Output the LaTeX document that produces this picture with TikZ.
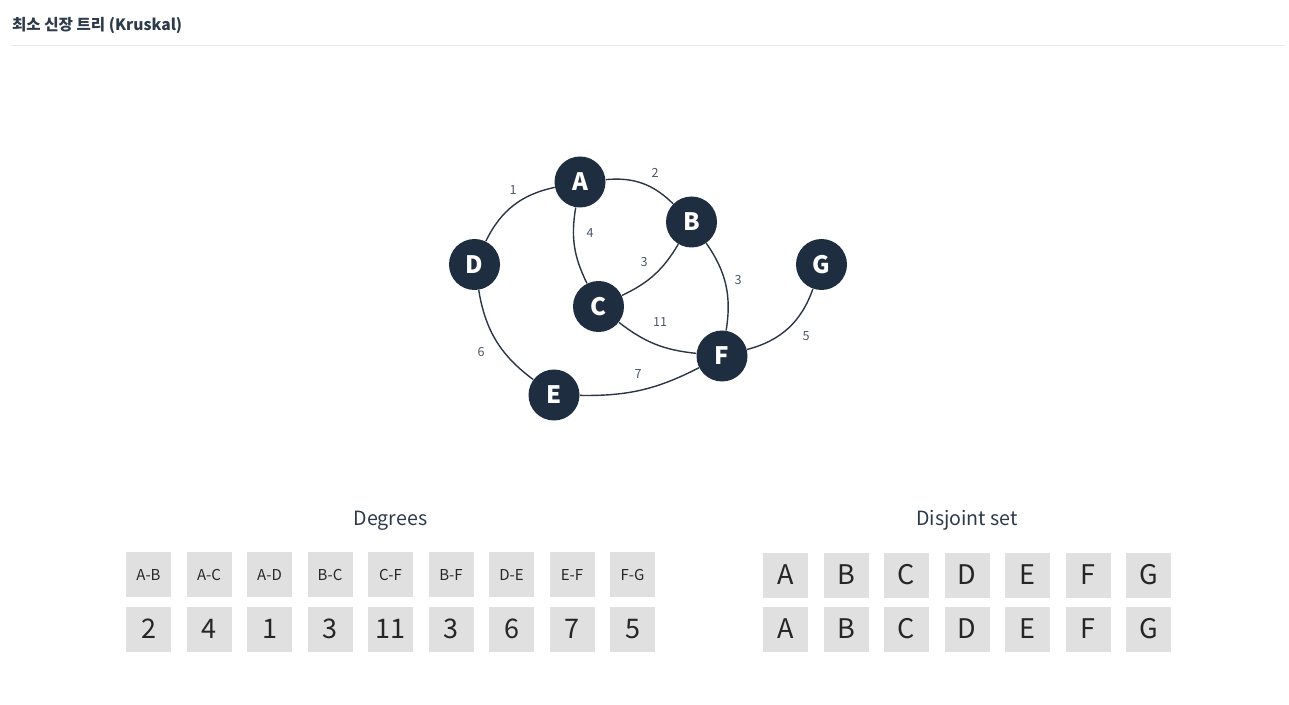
\documentclass[tikz,border=0pt]{standalone}
\usepackage{fontspec}
\setmainfont{Noto Sans CJK KR}
\usepackage{tikz}
\usetikzlibrary{positioning}
\definecolor{nodocol}{HTML}{1F2D40}
\definecolor{arcocol}{HTML}{2B3545}
\definecolor{testocol}{HTML}{2D3A4C}
\definecolor{casellacol}{HTML}{E0E0E0}
\definecolor{lineacol}{HTML}{E8E8E8}
\tikzset{
	% vertice del grafo
	vertice/.style={circle, fill=nodocol, text=white, minimum size=25.5pt, inner sep=0pt,
	                font=\bfseries\fontsize{12}{12}\selectfont},
	% arco pesato
	arco/.style={draw=arcocol, line width=0.7pt},
	% peso dell'arco
	peso/.style={font=\fontsize{6.3}{7}\selectfont, text=testocol!85, inner sep=1pt},
	% casella della tabella
	casella/.style={fill=casellacol, minimum size=22.5pt, inner sep=0pt, text=black!85},
	intest/.style={casella, font=\fontsize{7.5}{8}\selectfont},
	valore/.style={casella, font=\fontsize{13.5}{14}\selectfont},
	% titolo della tabella
	titolo/.style={font=\fontsize{9.8}{12}\selectfont, text=testocol},
}

\begin{document}
\begin{tikzpicture}[x=0.5pt, y=-0.5pt]
    \useasboundingbox (0,0) rectangle (1289,705);
    % intestazione
    \node[anchor=west, font=\bfseries\fontsize{7.8}{9}\selectfont, text=testocol] (intestazione) at (5,26) {최소 신장 트리 (Kruskal)};
    \draw[lineacol, line width=0.5pt] (12,46) -- (1285,46);
    % vertici
    \node[vertice] (A) at (580,182) {A};
    \node[vertice] (B) at (691.5,222) {B};
    \node[vertice] (C) at (598.5,306.5) {C};
    \node[vertice] (D) at (474.5,264.5) {D};
    \node[vertice] (E) at (554,395) {E};
    \node[vertice] (F) at (722,356) {F};
    \node[vertice] (G) at (821.5,264.5) {G};
    % archi
    \draw[arco] (D) to[bend left=26] (A);
    \draw[arco] (A) to[bend left=25] (B);
    \draw[arco] (A) to[bend right=18] (C);
    \draw[arco] (C) to[bend right=17] (B);
    \draw[arco] (B) to[bend left=22] (F);
    \draw[arco] (C) to[bend right=16] (F);
    \draw[arco] (D) to[bend right=22] (E);
    \draw[arco] (E) to[bend right=14] (F);
    \draw[arco] (F) to[bend right=28] (G);
    % pesi
    \node[peso] (p-ad) at (513,190) {1};
    \node[peso] (p-ab) at (655,173) {2};
    \node[peso] (p-ac) at (590,233) {4};
    \node[peso] (p-bc) at (644,262) {3};
    \node[peso] (p-bf) at (738,280) {3};
    \node[peso] (p-cf) at (660,322) {11};
    \node[peso] (p-de) at (481,352) {6};
    \node[peso] (p-ef) at (638,374) {7};
    \node[peso] (p-fg) at (806,336) {5};
    % tabella dei pesi
    \node[titolo] (gradi) at (390.5,520.5) {Degrees};
    \foreach \lab/\val [count=\i from 0] in {A-B/2, A-C/4, A-D/1, B-C/3, C-F/11, B-F/3, D-E/6, E-F/7, F-G/5}{
      \node[intest] (arco\i) at (148.5+60.5*\i,574.5) {\lab};
      \node[valore] (grado\i) at (148.5+60.5*\i,629) {\val};
    }
    % insiemi disgiunti
    \node[titolo] (insiemi) at (967,520.5) {Disjoint set};
    \foreach \n [count=\i from 0] in {A,B,C,D,E,F,G}{
      \node[valore] (elem\i) at (785.5+60.5*\i,575) {\n};
      \node[valore] (padre\i) at (785.5+60.5*\i,629) {\n};
    }
\end{tikzpicture}
\end{document}
